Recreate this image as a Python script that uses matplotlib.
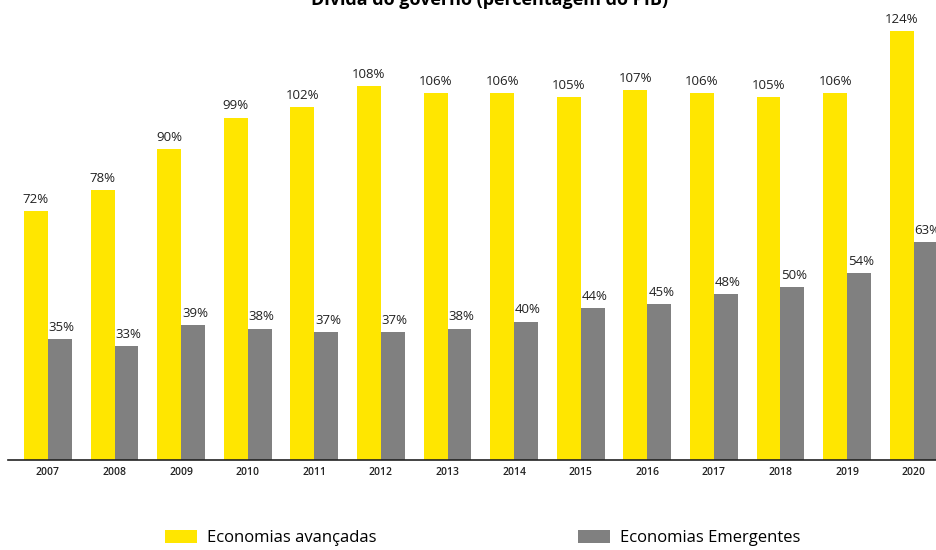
import matplotlib.pyplot as plt
import numpy as np

years = ['2007', '2008', '2009', '2010', '2011', '2012', '2013',
         '2014', '2015', '2016', '2017', '2018', '2019', '2020']
avancadas = [72, 78, 90, 99, 102, 108, 106, 106, 105, 107, 106, 105, 106, 124]
emergentes = [35, 33, 39, 38, 37, 37, 38, 40, 44, 45, 48, 50, 54, 63]

plt.rcParams['font.family'] = ['Open Sans', 'DejaVu Sans']

yellow = '#FFE600'
grey = '#808080'

fig = plt.figure(figsize=(9.37, 5.5), dpi=100)
ax = fig.add_axes([0.0085, 0.1636, 0.9915, 0.8364])

x = np.arange(len(years))
w = 0.36
b1 = ax.bar(x - w / 2, avancadas, w, color=yellow, label='Economias avançadas')
b2 = ax.bar(x + w / 2, emergentes, w, color=grey, label='Economias Emergentes')

# value labels above each bar
for rect, v in zip(b1, avancadas):
    ax.text(rect.get_x() + rect.get_width() / 2, v + 1.5, f'{v}%',
            ha='center', va='bottom', fontsize=9.5, color='#222222', clip_on=False)
for rect, v in zip(b2, emergentes):
    ax.text(rect.get_x() + rect.get_width() / 2 + 0.03, v + 1.5, f'{v}%',
            ha='center', va='bottom', fontsize=9.5, color='#222222', clip_on=False)

ax.set_xlim(-0.6, 13.35)
ax.set_ylim(0, 133)
ax.set_xticks(x)
ax.set_xticklabels(years, fontsize=7.5, fontweight='semibold', color='#222222')
ax.tick_params(axis='x', length=0, pad=5)
ax.set_yticks([])
for s in ['top', 'right', 'left']:
    ax.spines[s].set_visible(False)
ax.spines['bottom'].set_color('#222222')
ax.spines['bottom'].set_linewidth(1.2)

fig.text(0.523, 0.991, 'Dívida do governo (percentagem do PIB)', ha='center',
         va='baseline', fontsize=13, fontweight='bold')

leg_kw = dict(frameon=False, fontsize=12, handlelength=1.9, handleheight=0.8,
              handletextpad=0.6)
fig.legend(handles=[b1], loc='center left', bbox_to_anchor=(0.160, 0.022), **leg_kw)
fig.legend(handles=[b2], loc='center left', bbox_to_anchor=(0.601, 0.022), **leg_kw)

fig.savefig('out.png', dpi=100)
